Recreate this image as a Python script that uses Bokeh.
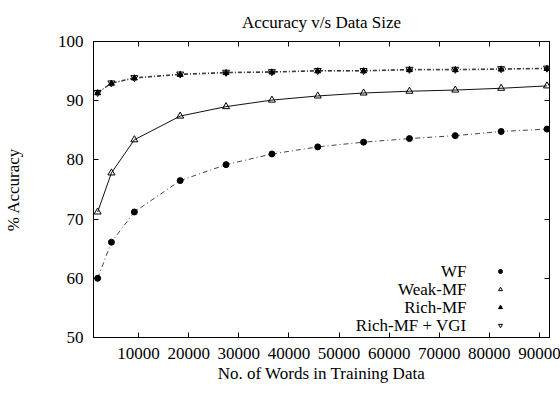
from bokeh.plotting import figure
from bokeh.models import FixedTicker, LinearAxis, Legend, LegendItem, Range1d, Label
from bokeh.embed import file_html
from bokeh.resources import INLINE

# ---- data ----
words = [1830, 4575, 9150, 18300, 27450, 36600, 45750, 54900, 64050, 73200, 82350, 91500]
wf = [60.0, 66.1, 71.2, 76.5, 79.2, 81.0, 82.2, 83.0, 83.6, 84.1, 84.8, 85.2]
weak_mf = [71.2, 77.8, 83.4, 87.4, 89.0, 90.1, 90.8, 91.3, 91.6, 91.8, 92.1, 92.5]
rich_mf = [91.3, 92.9, 93.8, 94.4, 94.7, 94.8, 95.0, 95.0, 95.2, 95.2, 95.3, 95.4]
rich_mf_vgi = [91.4, 93.0, 93.9, 94.5, 94.8, 94.9, 95.1, 95.1, 95.3, 95.3, 95.4, 95.5]
series_names = ["WF", "Weak-MF", "Rich-MF", "Rich-MF + VGI"]
x_ticks = [10000, 20000, 30000, 40000, 50000, 60000, 70000, 80000, 90000]
y_ticks = [50, 60, 70, 80, 90, 100]
title_text = "Accuracy v/s Data Size"

FONT = "Liberation Serif"
FS = "17px"
FW, FH = 456, 296

p = figure(
    frame_width=FW, frame_height=FH,
    min_border_left=87, min_border_right=17, min_border_top=41, min_border_bottom=59,
    x_range=Range1d(1000, 92000), y_range=Range1d(50, 100),
    output_backend="svg", toolbar_location=None,
    title=title_text,
)
p.title.text_font = FONT
p.title.text_font_size = FS
p.title.text_font_style = "normal"
p.title.text_color = "black"
p.title.align = "center"
p.title.offset = 0
p.title.vertical_align = "top"
p.title.standoff = 15

p.xgrid.visible = False
p.ygrid.visible = False
p.outline_line_color = "black"
p.outline_line_width = 1
p.background_fill_color = "white"
p.border_fill_color = "white"

def style_axis(ax, ticks, labels=True):
    ax.ticker = FixedTicker(ticks=ticks)
    ax.major_tick_in = 5
    ax.major_tick_out = 0
    ax.minor_tick_line_color = None
    ax.axis_line_color = "black"
    ax.major_tick_line_color = "black"
    if labels:
        ax.major_label_text_font = FONT
        ax.major_label_text_font_size = FS
        ax.major_label_text_color = "black"
        ax.major_label_standoff = 10
        ax.axis_label_text_font = FONT
        ax.axis_label_text_font_size = FS
        ax.axis_label_text_font_style = "normal"
        ax.axis_label_text_color = "black"
    else:
        ax.major_label_text_color = None
        ax.major_label_text_font_size = "1px"
        ax.major_label_standoff = 0

style_axis(p.xaxis[0], x_ticks)
style_axis(p.yaxis[0], y_ticks)
p.xaxis[0].axis_label = "No. of Words in Training Data"
p.xaxis[0].axis_label_standoff = 2
p.yaxis[0].axis_label = "% Accuracy"
p.yaxis[0].axis_label_standoff = 32

top_ax = LinearAxis()
style_axis(top_ax, x_ticks, labels=False)
p.add_layout(top_ax, "above")
right_ax = LinearAxis()
style_axis(right_ax, y_ticks, labels=False)
p.add_layout(right_ax, "right")

# lines
p.line(words, wf, line_color="#444444", line_width=1, line_dash="5 3 1 3")
p.line(words, weak_mf, line_color="#111111", line_width=1)
p.line(words, rich_mf, line_color="#333333", line_width=1, line_dash="4 2 1 2")
p.line(words, rich_mf_vgi, line_color="#333333", line_width=1, line_dash="4 2 1 2")

# markers
r_wf = p.scatter(words, wf, marker="circle", size=6, fill_color="black", line_color="black")
r_weak = p.scatter(words, weak_mf, marker="triangle", size=7, fill_color=None, line_color="black")
r_rich = p.scatter(words, rich_mf, marker="triangle", size=6, fill_color="black", line_color="black")
r_vgi = p.scatter(words, rich_mf_vgi, marker="inverted_triangle", size=7, fill_color=None, line_color="black")
renderers = [r_wf, r_weak, r_rich, r_vgi]

# legend: markers via Legend (labels hidden), texts right-aligned on their left
legend = Legend(
    items=[LegendItem(label=n, renderers=[r]) for n, r in zip(series_names, renderers)],
    location=(402, 3),
    glyph_width=10, glyph_height=18,
    label_height=18, label_standoff=0, label_width=1,
    label_text_color=None, label_text_font_size="1px",
    padding=0, margin=0, spacing=0,
    background_fill_alpha=0, border_line_color=None,
)
p.add_layout(legend, "center")

row_h = 18
for i, n in enumerate(series_names):
    p.add_layout(Label(
        x=373, y=3 + row_h * (len(series_names) - 1 - i) + row_h / 2,
        x_units="screen", y_units="screen", text=n,
        text_align="right", text_baseline="middle",
        text_font=FONT, text_font_size=FS, text_color="black",
    ))

open("out.html", "w").write(file_html(p, INLINE))
